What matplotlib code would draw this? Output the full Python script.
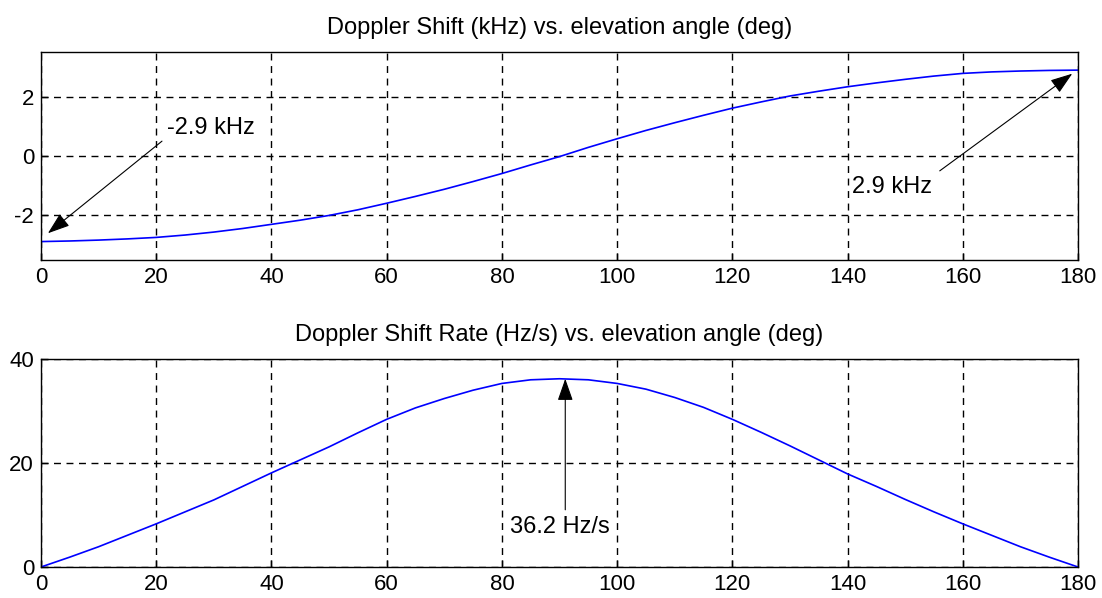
import matplotlib
matplotlib.use("Agg")
import matplotlib.pyplot as plt

# ---- data ----
angle_deg = [0, 5, 10, 15, 20, 25, 30, 35, 40, 45, 50, 55, 60, 65, 70, 75, 80, 85, 90,
             95, 100, 105, 110, 115, 120, 125, 130, 135, 140, 145, 150, 155, 160, 165, 170, 175, 180]
shift_khz = [-2.88, -2.86, -2.83, -2.79, -2.74, -2.66, -2.56, -2.44, -2.30, -2.16, -2.00, -1.81,
             -1.59, -1.36, -1.12, -0.86, -0.59, -0.30, -0.02, 0.29, 0.58, 0.86, 1.12, 1.37, 1.61,
             1.82, 2.02, 2.18, 2.33, 2.46, 2.58, 2.69, 2.78, 2.83, 2.86, 2.88, 2.89]
rate_hz_s = [0.0, 1.9, 3.9, 6.1, 8.3, 10.6, 12.9, 15.5, 18.1, 20.6, 23.1, 25.8, 28.4, 30.6, 32.4,
             34.0, 35.3, 36.0, 36.2, 36.0, 35.3, 34.2, 32.6, 30.7, 28.4, 25.9, 23.3, 20.6, 17.9,
             15.5, 13.0, 10.6, 8.3, 6.1, 3.9, 1.9, 0.0]
x_ticks = [0, 20, 40, 60, 80, 100, 120, 140, 160, 180]
top_yticks = [-2, 0, 2]
bot_yticks = [0, 20, 40]
title_top = "Doppler Shift (kHz) vs. elevation angle (deg)"
title_bot = "Doppler Shift Rate (Hz/s) vs. elevation angle (deg)"
ann_top_left = "-2.9 kHz"
ann_top_right = "2.9 kHz"
ann_bot = "36.2 Hz/s"

plt.rcParams['font.family'] = ["Liberation Sans", "DejaVu Sans"]
plt.rcParams['axes.unicode_minus'] = False
FS = 17
TFS = 16

fig = plt.figure(figsize=(11.02, 5.98), dpi=100)
ax1 = fig.add_axes([41/1102, 1-260/598, 1037/1102, 208/598])
ax2 = fig.add_axes([41/1102, 1-567/598, 1037/1102, 208/598])

def style(ax, yticks, ylim):
    ax.set_xlim(0, 180)
    ax.set_ylim(*ylim)
    ax.set_xticks(x_ticks)
    ax.set_yticks(yticks)
    ax.grid(True, color='black', linestyle=(0, (5, 4)), linewidth=1.0)
    ax.tick_params(direction='in', length=5, width=1, labelsize=TFS, pad=5, colors='black')
    for s in ax.spines.values():
        s.set_linewidth(1.0)
        s.set_color('black')

ax1.plot(angle_deg, shift_khz, color='#0000ff', lw=1.2)
style(ax1, top_yticks, (-3.5, 3.5))
ax1.set_title(title_top, fontsize=FS, pad=13)

ax2.plot(angle_deg, rate_hz_s, color='#0000ff', lw=1.2)
style(ax2, bot_yticks, (0, 40))
ax2.set_title(title_bot, fontsize=FS, pad=13)

ap = dict(arrowstyle='-|>,head_length=0.8,head_width=0.28', color='black', lw=0.8,
          shrinkA=0, shrinkB=0, mutation_scale=17)
ax1.annotate("", xy=(1.2, -2.6), xytext=(21.0, 0.5), arrowprops=ap)
ax1.text(21.8, 0.95, ann_top_left, fontsize=FS, va='center', ha='left')
ax1.annotate("", xy=(179.0, 2.77), xytext=(156.0, -0.5), arrowprops=ap)
ax1.text(140.8, -1.05, ann_top_right, fontsize=FS, va='center', ha='left')
ax2.annotate("", xy=(91.0, 36.2), xytext=(91.0, 11.0), arrowprops=ap)
ax2.text(90.0, 7.7, ann_bot, fontsize=FS, va='center', ha='center')

fig.savefig("out.png", dpi=100, facecolor='white')
